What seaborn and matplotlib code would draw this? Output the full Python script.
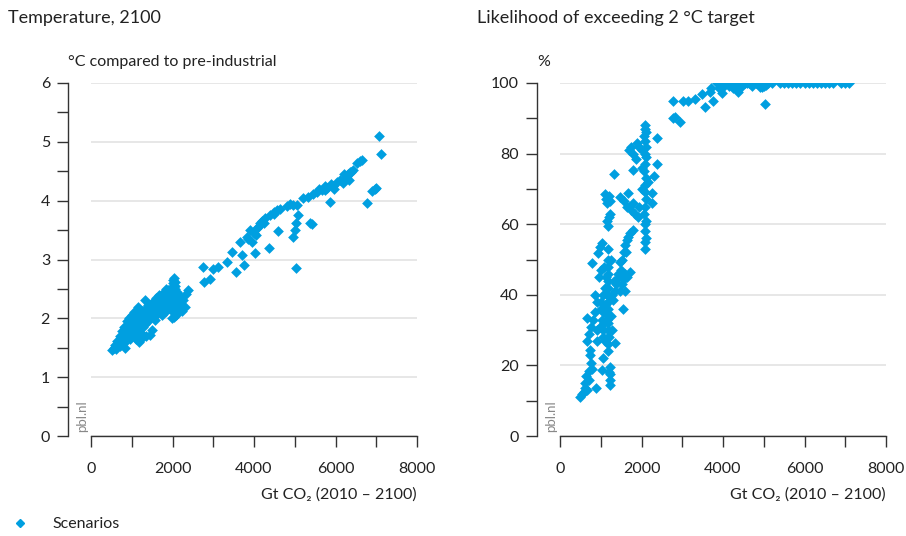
import numpy as np
import pandas as pd
import matplotlib
matplotlib.use('Agg')
import matplotlib.pyplot as plt
import seaborn as sns

sns.set_theme(style='white')
plt.rcParams['font.family'] = ['Lato', 'DejaVu Sans']

blue = '#009fe0'
dark = '#222222'

# Temperature in 2100 vs cumulative CO2 (2010-2100)
temp_x = [510, 560, 600, 620, 650, 680, 700, 720, 750, 760, 780, 800, 820, 834, 850, 870, 880, 900,
          920, 940, 950, 970, 990, 1000, 1010, 1030, 1050, 1060, 1080, 1100, 1110, 1120, 1140, 1150,
          1160, 1180, 1190, 1200, 1210, 1230, 1250, 1260, 1280, 1300, 1325, 1330, 1350, 1370, 1390,
          1400, 1420, 1450, 1470, 1490, 1500, 1520, 1540, 1560, 1580, 1600, 1620, 1640, 1660, 1680,
          1700, 1720, 1740, 1760, 1780, 1800, 1820, 1840, 1860, 1880, 1900, 1920, 1940, 1960, 1980,
          2000, 2010, 2020, 2030, 2040, 2050, 2060, 2070, 2080, 2090, 2100, 2120, 2150, 2180, 2200,
          2230, 2260, 2300, 2330, 2380, 2050, 2010, 1990, 1450, 1350, 1100, 1240,
          700, 900, 1050, 1250, 1600, 1850, 2000, 2020, 1150, 950, 800,
          2750, 2780, 2920, 3000, 3120, 3330, 3450, 3560, 3660, 3700, 3760, 3830, 3900, 3950, 4000,
          4030, 4080, 4150, 4200, 4280, 4370, 4400, 4480, 4560, 4600, 4810, 4880, 4950, 5060, 4960,
          5000, 5040, 5080, 5030, 5330, 5370, 5420, 5450, 5550, 5670, 5750, 5800, 5865, 5900, 5960,
          6040, 6180, 6230, 6280, 6330, 6380, 6430, 6300, 6250, 6530, 6600, 6650, 6766, 6900, 6970,
          7000, 7068, 7117,
          4100, 4250, 4500, 4650, 5200, 5600, 6100, 6200, 6350, 5950, 5750, 4050, 3850]
temp_y = [1.46, 1.50, 1.55, 1.48, 1.62, 1.58, 1.70, 1.53, 1.78, 1.66, 1.60, 1.72, 1.85, 1.50, 1.78,
          1.68, 1.95, 1.82, 1.74, 2.00, 1.88, 1.80, 1.95, 1.70, 2.05, 1.86, 1.78, 2.10, 1.92, 2.02,
          1.65, 2.15, 1.84, 1.97, 2.20, 1.60, 1.90, 1.63, 2.08, 1.75, 1.96, 2.12, 1.85, 2.00, 2.31,
          1.90, 2.18, 2.05, 1.95, 2.22, 2.10, 2.00, 2.25, 1.80, 2.12, 2.05, 2.30, 2.18, 1.98, 2.35,
          2.20, 2.10, 2.40, 2.28, 2.15, 2.38, 2.05, 2.32, 2.22, 2.45, 2.30, 2.12, 2.40, 2.25, 2.48,
          2.35, 2.18, 2.52, 2.30, 2.60, 2.10, 2.40, 2.68, 2.02, 2.50, 2.35, 2.62, 2.20, 2.05, 2.45,
          2.28, 2.15, 2.38, 2.25, 2.12, 2.32, 2.20, 2.42, 2.48, 2.55, 2.65, 2.00, 1.72, 1.70, 1.85,
          1.68,
          1.62, 1.95, 2.00, 2.05, 2.05, 2.50, 2.20, 2.30, 1.75, 1.65, 1.58,
          2.88, 2.62, 2.67, 2.84, 2.87, 2.96, 3.12, 2.79, 3.29, 3.08, 2.90, 3.39, 3.50, 3.30, 3.45,
          3.11, 3.54, 3.62, 3.66, 3.70, 3.19, 3.75, 3.80, 3.84, 3.49, 3.91, 3.94, 3.93, 3.92, 3.38,
          3.50, 3.62, 3.76, 2.85, 4.07, 3.62, 3.60, 4.12, 4.15, 4.18, 4.25, 4.22, 3.97, 4.28, 4.20,
          4.32, 4.30, 4.38, 4.42, 4.35, 4.48, 4.52, 4.45, 4.40, 4.64, 4.67, 4.69, 3.96, 4.17, 4.20,
          4.22, 5.10, 4.79,
          3.55, 3.62, 3.78, 3.85, 4.05, 4.20, 4.35, 4.45, 4.48, 4.25, 4.18, 3.42, 3.35]

# Likelihood of exceeding the 2 degree target
prob_x = [3850, 3950, 4050, 4100, 4200, 4300, 4400, 4500, 4600, 4750, 4850, 4900, 4950, 5000, 5050,
          5100, 5200, 5400, 5500, 5600, 5700, 5800, 5900, 6000, 6100, 6200, 6300, 6400, 6500, 6600,
          6700, 6900, 7000, 7100, 4700, 5000,
          4000, 4150, 4250, 4350, 4450, 4550, 4650, 4800,
          3900, 4000, 4150, 4250, 4370, 3970, 3680, 3700, 3480, 3310, 3140, 3020, 2765, 3760, 3560,
          5030, 4450, 4900, 4950, 5050,
          2780, 2820, 2945, 2370, 2370, 2310, 2250, 2260,
          2080, 2090, 2100, 2070, 2090, 2110, 2080, 2100, 2090, 2070, 2100, 2090, 2080, 2110, 2090,
          2070, 2100, 2090, 2080, 2100, 2090, 2080,
          1890, 1950, 2000, 1700, 1750, 1790, 1865, 1790, 1670, 1470, 1560, 1650, 1740, 1830, 1915,
          1790, 1520, 1560, 1600, 1640, 1680, 1720, 1470, 1720, 1470, 1520, 1560, 1600, 1640, 1595,
          1545, 1330, 1100, 1130, 1160, 1200, 1230, 1150, 1180, 1230, 1200, 980, 1030, 1180, 935, 780,
          1180, 1180, 1170, 1190, 1180, 1170, 1180, 1190, 1180, 1170, 1180, 1190, 1180, 1170,
          1300, 1350, 1380, 1420, 1330, 1280,
          980, 1020, 1060, 1100, 1150, 1000, 1080,
          660, 700, 750, 800, 850, 910, 660, 740, 1350, 1060, 900,
          1230, 1230, 1230, 1230, 1200, 1030, 1060, 740, 610, 650, 700, 760, 790, 720, 875, 490, 540,
          580, 620, 660,
          1120, 1100, 1050, 1130, 1000, 1050, 1250, 1270, 960, 1000, 1080, 1250, 1150, 1110, 1210,
          860, 900, 1450, 1500, 1620, 1950, 2000, 2150, 2020, 1800, 1700]
prob_y = [100, 100, 100, 100, 100, 100, 100, 100, 100, 100, 100, 100, 100, 100, 100,
          100, 100, 100, 100, 100, 100, 100, 100, 100, 100, 100, 100, 100, 100, 100,
          100, 100, 100, 100, 99.2, 99.2,
          100, 100, 100, 100, 100, 100, 100, 100,
          98.5, 98.8, 99.2, 98.5, 97.5, 97.2, 97.5, 98.6, 96.8, 95.4, 94.9, 94.9, 94.9, 94.9, 93.3,
          94.0, 99.0, 99.0, 98.8, 99.3,
          90.1, 90.3, 88.9, 84.4, 77.1, 73.7, 68.9, 66.0,
          88, 87, 86, 85, 83.5, 82, 80, 79, 77, 75, 73, 71, 69, 67, 65,
          63, 61, 60, 58, 56, 55, 53,
          83, 82, 81, 81, 82, 80, 78.4, 75.4, 68.9, 67.8, 66.5, 65, 64, 63, 62.1,
          58.4, 50, 52, 54, 55.5, 56.5, 57.5, 49.4, 46.5, 41, 43, 44.5, 46, 45, 41.1,
          36, 74.2, 68.5, 67, 66, 68, 66.5, 61, 59.5, 63, 62, 53.5, 54.7, 53, 51.8, 49.1,
          50, 48, 46, 44, 42, 40, 38, 36, 34, 32, 30, 28, 26, 24,
          38.5, 41, 43, 46, 44, 40,
          31, 33, 35, 37, 40, 38, 32,
          27, 29, 31, 33, 35, 30, 33.4, 24.4, 26.4, 28, 27,
          14.5, 16, 17.5, 19.5, 18, 18.7, 22, 23, 15, 17, 18.5, 20.7, 19, 16, 13.5, 11, 12,
          12.5, 13.6, 13,
          45, 42, 40, 35, 36, 30, 34, 30, 45, 47, 48, 50, 33, 27, 28,
          40, 38, 45, 47, 52, 65, 70, 72, 76, 66, 65]

temp_df = pd.DataFrame({'co2': temp_x, 'val': temp_y})
prob_df = pd.DataFrame({'co2': prob_x, 'val': prob_y})

fig = plt.figure(figsize=(9.06, 5.36), dpi=100)
ax1 = fig.add_axes([91 / 906, 1 - 436 / 536, 326 / 906, 353 / 536])
ax2 = fig.add_axes([560 / 906, 1 - 436 / 536, 326 / 906, 353 / 536])

panels = [
    (ax1, temp_df, 6, 1, 0.5, 'Temperature, 2100', '°C compared to pre-industrial'),
    (ax2, prob_df, 100, 20, 10, 'Likelihood of exceeding 2 °C target', '%'),
]

for ax, df, ymax, ystep, yminor, title, unit in panels:
    ax.set_axisbelow(True)
    sns.scatterplot(data=df, x='co2', y='val', ax=ax, marker='D', s=30,
                    color=blue, linewidth=0, legend=False, zorder=3)
    ax.set_xlim(0, 8000)
    ax.set_ylim(0, ymax)
    ax.set_xticks(np.arange(0, 8001, 2000))
    ax.set_xticks(np.arange(1000, 8000, 2000), minor=True)
    ax.set_yticks(np.arange(0, ymax + 0.01, ystep))
    ax.set_yticks(np.arange(yminor, ymax, ystep), minor=True)
    ax.set_xticklabels(['0', '2000', '4000', '6000', '8000'])
    ax.yaxis.grid(True, color='#e3e3e3', linewidth=1.2)
    ax.xaxis.grid(False)
    for side in ['top', 'right']:
        ax.spines[side].set_visible(False)
    ax.spines['left'].set_position(('outward', 16.5))
    for side in ['left', 'bottom']:
        ax.spines[side].set_color('#333333')
        ax.spines[side].set_linewidth(1.0)
    ax.tick_params(which='both', length=8, width=1.0, color='#333333',
                   labelsize=11.5, labelcolor=dark, left=True, bottom=True)
    ax.tick_params(axis='x', pad=11)
    ax.tick_params(axis='y', pad=5)
    ax.set_xlabel('Gt CO₂ (2010 – 2100)', fontsize=11.5, color=dark, loc='right', labelpad=8)
    ax.set_ylabel('')
    ax.text(-0.07, 1.06, unit, transform=ax.transAxes, fontsize=11.5, color=dark,
            ha='left', va='center')
    ax.text(-0.255, 1.185, title, transform=ax.transAxes, fontsize=13, color=dark,
            ha='left', va='center')
    ax.text(-0.028, 0.01, 'pbl.nl', transform=ax.transAxes, fontsize=9.5, color='#888888',
            rotation=90, ha='center', va='bottom')

handle = plt.Line2D([], [], marker='D', color=blue, linestyle='none', markersize=4.5)
fig.legend([handle], ['Scenarios'], loc='center left', bbox_to_anchor=(0.013, 0.022),
           frameon=False, fontsize=11.5, handlelength=1.0, handletextpad=1.55,
           borderpad=0, borderaxespad=0, labelcolor=dark)

fig.savefig('out.png', dpi=100)
